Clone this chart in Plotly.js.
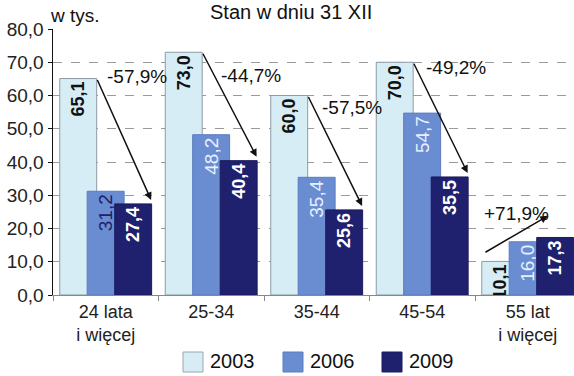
<!DOCTYPE html>
<html>
<head>
<meta charset="utf-8">
<script src="https://cdn.plot.ly/plotly-3.0.1.min.js"></script>
<style>html,body{margin:0;padding:0;background:#fff;}#chart{width:574px;height:376px;}</style>
</head>
<body>
<div id="chart"></div>
<script>
// ---- data ----
const categories = ["24 lata<br>i więcej", "25-34", "35-44", "45-54", "55 lat<br>i więcej"];
const seriesNames = ["2003", "2006", "2009"];
const values2003 = [65.1, 73.0, 60.0, 70.0, 10.1];
const values2006 = [31.2, 48.2, 35.4, 54.7, 16.0];
const values2009 = [27.4, 40.4, 25.6, 35.5, 17.3];
const changeLabels = ["-57,9%", "-44,7%", "-57,5%", "-49,2%", "+71,9%"];
const yTicks = [0, 10, 20, 30, 40, 50, 60, 70, 80];

// ---- style / layout constants ----
const FONT = "Liberation Sans, Arial, sans-serif";
const colors = ["#d6edf5", "#6a8dd2", "#1f206e"];
const borders = ["#8d9ba6", "#5a7cc0", "#1a1b5e"];
const barWidth = 0.35;
const offsets = [-0.436, -0.176, 0.085];
const fmt = v => v.toFixed(1).replace(".", ",");

const textColors = [
  values2003.map(() => "#111111"),
  values2006.map((v, i) => i === 0 ? "#1f206e" : "#e8f0ff"),
  values2009.map(() => "#ffffff")
];
const textWeights = ["bold", "normal", "bold"];
const textSizes = [18, 19, 18];
const allValues = [values2003, values2006, values2009];

const traces = allValues.map((vals, k) => ({
  type: "bar",
  name: seriesNames[k],
  x: categories,
  y: vals,
  width: barWidth,
  offset: offsets[k],
  marker: {color: colors[k], line: {color: borders[k], width: 1}},
  text: vals.map(fmt),
  textposition: "inside",
  insidetextanchor: "end",
  textangle: -90,
  constraintext: "none",
  textfont: {family: FONT, size: textSizes[k], color: textColors[k], weight: textWeights[k]},
  hoverinfo: "skip",
  showlegend: false
}));

// arrow geometry (category index units / value units)
const arrowStartDx = [-0.086, -0.086, -0.086, -0.086, -0.415];
const arrowEndDx = [0.43, 0.43, 0.43, 0.43, 0.19];
const arrowStartY = [null, null, null, null, 12.6];
const arrowEndY = [null, null, null, null, 23.8];
const labelDx = [-0.01, 0.07, 0.03, 0.015, -0.435];
const labelY = [65.6, 65.9, 56.5, 68.3, 24.6];

const annotations = [];
categories.forEach((c, i) => {
  const sy = arrowStartY[i] !== null ? arrowStartY[i] : values2003[i];
  const ey = arrowEndY[i] !== null ? arrowEndY[i] : values2009[i] + 1.2;
  annotations.push({
    x: i + arrowEndDx[i], y: ey, xref: "x", yref: "y",
    ax: i + arrowStartDx[i], ay: sy, axref: "x", ayref: "y",
    text: "", showarrow: true, arrowhead: 2, arrowsize: 1, arrowwidth: 1.5,
    arrowcolor: "#111", standoff: 0, startstandoff: 0
  });
  annotations.push({
    x: i + labelDx[i], y: labelY[i], xref: "x", yref: "y",
    text: changeLabels[i], showarrow: false, xanchor: "left", yanchor: "middle",
    font: {family: FONT, size: 19, color: "#111"}
  });
});

// pixel -> paper helpers (plot area: x 53..574, y 29..295)
const L = 53, R = 574, T = 29, B = 295;
const px = x => (x - L) / (R - L);
const py = y => (B - y) / (B - T);

// title and unit label
annotations.push({
  xref: "paper", yref: "paper", x: px(291), y: py(-1), xanchor: "center", yanchor: "top",
  text: "Stan w dniu 31 XII", showarrow: false, font: {family: FONT, size: 20, color: "#111"}
});
annotations.push({
  xref: "paper", yref: "paper", x: px(48), y: py(15), xanchor: "left", yanchor: "middle",
  text: "w tys.", showarrow: false, font: {family: FONT, size: 19, color: "#111"}
});

// custom legend
const shapes = [];
const legendX = [183, 283, 382];
seriesNames.forEach((n, k) => {
  shapes.push({
    type: "rect", xref: "paper", yref: "paper",
    x0: px(legendX[k]), x1: px(legendX[k] + 20), y0: py(372), y1: py(352),
    fillcolor: colors[k], line: {color: k === 0 ? "#9aa6ae" : borders[k], width: 1}
  });
  annotations.push({
    xref: "paper", yref: "paper", x: px(legendX[k] + 25), y: py(361), xanchor: "left", yanchor: "middle",
    text: n, showarrow: false, font: {family: FONT, size: 20, color: "#111"}
  });
});

const layout = {
  width: 574, height: 376,
  margin: {l: L, r: 574 - R, t: T, b: 376 - B, pad: 0},
  paper_bgcolor: "#ffffff", plot_bgcolor: "#ffffff",
  barmode: "overlay",
  separators: ", ",
  showlegend: false,
  font: {family: FONT, size: 19, color: "#222"},
  xaxis: {
    type: "category", range: [-0.5, -0.5 + 521 / 105.5],
    showline: true, linecolor: "#888", linewidth: 1,
    ticks: "outside", tickson: "boundaries", ticklen: 5, tickcolor: "#888",
    ticklabelstandoff: 0,
    showgrid: false, zeroline: false,
    tickfont: {family: FONT, size: 18, color: "#222"}
  },
  yaxis: {
    range: [0, 80], tickvals: yTicks, ticktext: yTicks.map(fmt),
    showline: true, linecolor: "#111", linewidth: 1.5,
    ticks: "outside", ticklen: 4, tickcolor: "#111",
    showgrid: true, gridcolor: "#9a9a9a", griddash: "dash", gridwidth: 1,
    zeroline: false,
    tickfont: {family: FONT, size: 19, color: "#222"}
  },
  annotations: annotations,
  shapes: shapes
};

Plotly.newPlot("chart", traces, layout, {staticPlot: true, displayModeBar: false});
</script>
</body>
</html>
